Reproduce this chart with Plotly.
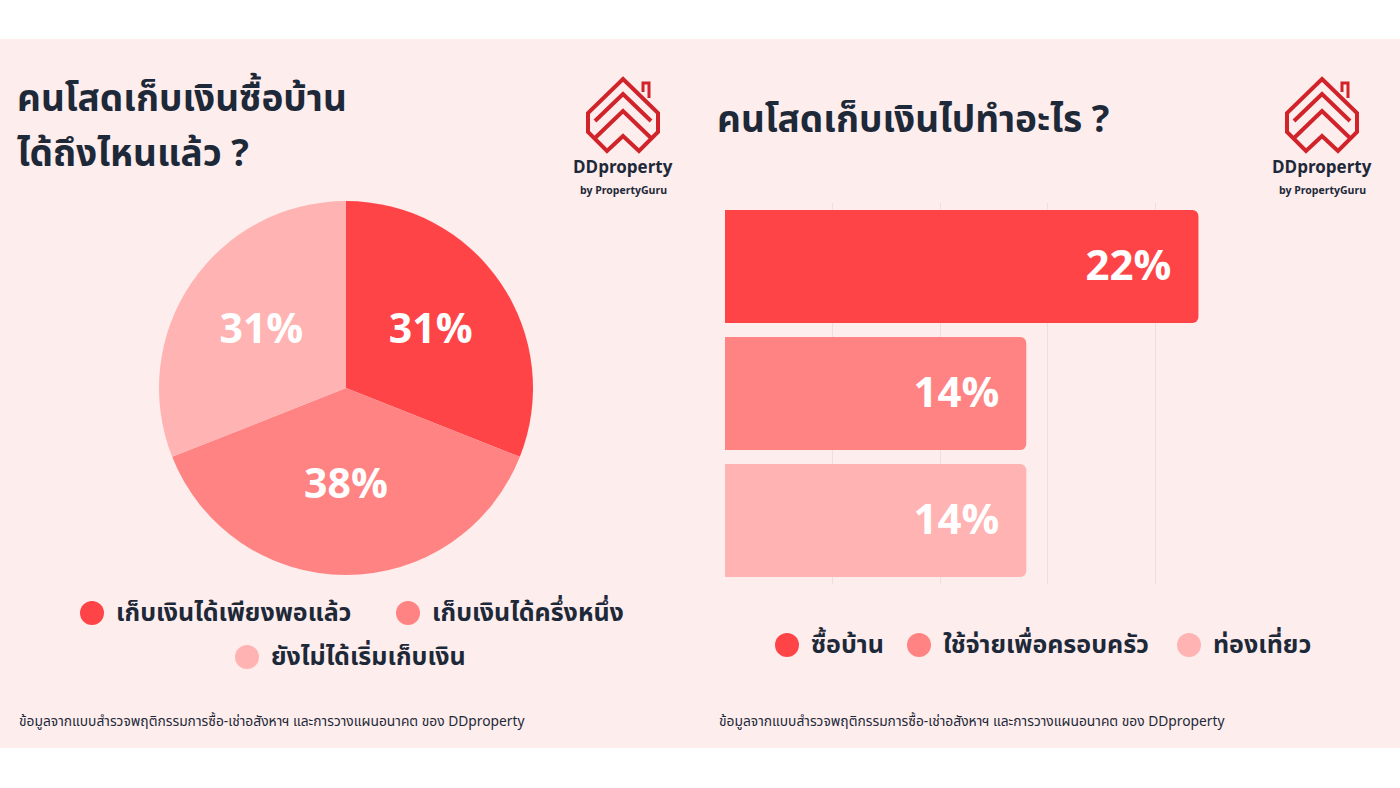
import plotly.graph_objects as go

W, H = 1400, 788

# ---------- data ----------
pie_labels = ["เก็บเงินได้เพียงพอแล้ว", "เก็บเงินได้ครึ่งหนึ่ง", "ยังไม่ได้เริ่มเก็บเงิน"]
pie_values = [31, 38, 31]
pie_colors = ["#FF4447", "#FF8383", "#FFB3B3"]

bar_labels = ["ซื้อบ้าน", "ใช้จ่ายเพื่อครอบครัว", "ท่องเที่ยว"]
bar_values = [22, 14, 14]
bar_colors = ["#FF4447", "#FF8383", "#FFB3B3"]

left_title_1 = "คนโสดเก็บเงินซื้อบ้าน"
left_title_2 = "ได้ถึงไหนแล้ว ?"
right_title = "คนโสดเก็บเงินไปทำอะไร ?"
source_note = "ข้อมูลจากแบบสำรวจพฤติกรรมการซื้อ-เช่าอสังหาฯ และการวางแผนอนาคต ของ DDproperty"

DARK = "#1D2939"
BG = "#FDEDEC"
FONT = "Noto Sans Thai, Noto Sans, Inter, sans-serif"


def px(x):
    return x / W


def py(y):
    return 1 - y / H


fig = go.Figure()

# pie
fig.add_trace(go.Pie(
    labels=pie_labels, values=pie_values,
    marker=dict(colors=pie_colors, line=dict(width=0)),
    sort=False, direction="clockwise", rotation=0,
    texttemplate="%{value}%", textposition="inside",
    insidetextorientation="horizontal",
    textfont=dict(family=FONT, size=41, color="white", weight="bold"),
    domain=dict(x=[px(159), px(533)], y=[py(575), py(201)]),
    showlegend=False, hoverinfo="label+percent",
))

# bars
fig.add_trace(go.Bar(
    y=bar_labels, x=bar_values, orientation="h",
    marker=dict(color=bar_colors, line=dict(width=0), cornerradius=6),
    texttemplate="%{x}%\u2002", textposition="inside", insidetextanchor="end",
    textfont=dict(family=FONT, size=42, color="white", weight="bold"),
    showlegend=False, xaxis="x", yaxis="y",
))

fig.update_layout(
    width=W, height=H,
    margin=dict(l=0, r=0, t=0, b=0),
    paper_bgcolor="white", plot_bgcolor="rgba(0,0,0,0)",
    font=dict(family=FONT, color=DARK),
    bargap=14 / 127,
    xaxis=dict(domain=[px(725), px(1263)], range=[0, 25], dtick=5,
               showticklabels=False, showgrid=True, gridcolor="#F3DCDC",
               gridwidth=1, zeroline=False, showline=False, fixedrange=True),
    yaxis=dict(domain=[py(584), py(203)], categoryorder="array",
               categoryarray=bar_labels, autorange="reversed",
               showticklabels=False, showgrid=False, zeroline=False,
               showline=False, fixedrange=True),
)

shapes = []
# pink background band
shapes.append(dict(type="rect", xref="paper", yref="paper", x0=0, x1=1,
                   y0=py(748), y1=py(39), fillcolor=BG, line=dict(width=0),
                   layer="below"))

annotations = []


def add_text(x, y, text, size, weight="normal", anchor="left", color=DARK, yanchor="middle"):
    annotations.append(dict(x=px(x), y=py(y), xref="paper", yref="paper",
                            text=text, showarrow=False, xanchor=anchor,
                            yanchor=yanchor, align=anchor,
                            font=dict(family=FONT, size=size, color=color,
                                      weight=weight)))


# titles
add_text(15, 100, left_title_1, 37, "bold")
add_text(15, 155, left_title_2, 37, "bold")
add_text(715, 121, right_title, 37, "bold")

# footnotes
add_text(17, 721, source_note, 13.8)
add_text(717, 721, source_note, 13.8)


# logos
def logo(cx):
    red = "#D1232A"
    ox = cx - 625

    def P(pts, close=False):
        d = "M " + " L ".join(f"{px(x + ox)} {py(y)}" for x, y in pts)
        if close:
            d += " Z"
        return d
    outer = [(625, 79), (660, 113), (660, 132), (641, 151), (625, 136),
             (609, 151), (590, 132), (590, 113)]
    shapes.append(dict(type="path", xref="paper", yref="paper",
                       path=P(outer, True), line=dict(color=red, width=4),
                       fillcolor="rgba(0,0,0,0)"))
    for dy in (0, 17):
        pts = [(597, 121 + dy), (625, 94 + dy), (653, 121 + dy)]
        shapes.append(dict(type="path", xref="paper", yref="paper",
                           path=P(pts), line=dict(color=red, width=4)))
    shapes.append(dict(type="path", xref="paper", yref="paper",
                       path=P([(645, 92), (645, 83), (651, 83), (651, 98)]),
                       line=dict(color=red, width=3)))
    add_text(cx, 168, "DDproperty", 17, "bold", anchor="center")
    add_text(cx, 190.5, "by PropertyGuru", 10.5, "bold", anchor="center")


logo(623)
logo(1322)


# legends (custom)
def legend_item(x, y, color, text):
    r = 12
    shapes.append(dict(type="circle", xref="paper", yref="paper",
                       x0=px(x - r), x1=px(x + r), y0=py(y + r), y1=py(y - r),
                       fillcolor=color, line=dict(width=0)))
    add_text(x + 22, y, text, 25, "bold")


legend_item(92, 613, pie_colors[0], pie_labels[0])
legend_item(408, 613, pie_colors[1], pie_labels[1])
legend_item(247, 657, pie_colors[2], pie_labels[2])

legend_item(787, 645, bar_colors[0], bar_labels[0])
legend_item(919, 645, bar_colors[1], bar_labels[1])
legend_item(1189, 645, bar_colors[2], bar_labels[2])

fig.update_layout(shapes=shapes, annotations=annotations)

fig.write_html("out.html")
